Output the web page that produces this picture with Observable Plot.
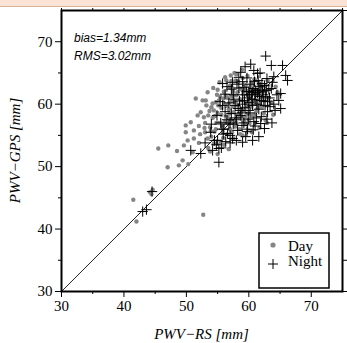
<!DOCTYPE html>
<html><head><meta charset="utf-8">
<script src="https://cdn.jsdelivr.net/npm/d3@7"></script>
<script src="https://cdn.jsdelivr.net/npm/@observablehq/plot@0.6"></script>
<style>
body{margin:0;background:#fff;}
#banner{height:6px;background:#fbe4d5;border-bottom:1px solid #d9b49b;}
#chart svg{display:block;}
</style></head><body>
<div id="banner"></div>
<div id="chart"></div>
<script>
// [PWV-RS, PWV-GPS] in mm
const dayPoints = [
[41.5,44.7],[42.0,41.2],[44.2,45.9],[44.6,46.3],[44.4,45.6],[52.7,42.3],
[45.5,52.9],[47.1,53.4],[47.0,49.9],[48.8,50.2],[49.4,51.0],[49.6,53.4],[50.2,54.2],[51.2,54.5],
[49.9,56.6],[50.7,57.1],[51.8,58.2],[52.3,58.7],[51.5,60.9],[52.6,60.6],[53.4,61.9],[51.2,55.8],
[53.4,54.5],[49.9,55.5],[52.8,57.9],[51.0,52.3],[48.5,52.5],[50.3,50.4],
[53.0,57.0],[53.5,58.2],[53.8,56.3],[54.0,59.5],[54.2,57.8],[54.5,55.6],[54.7,60.3],[55.0,58.6],
[55.2,57.0],[55.4,61.2],[55.6,59.4],[55.8,56.5],[56.0,62.0],[56.1,60.0],[56.3,58.0],[56.5,55.2],
[56.6,61.0],[56.8,59.2],[57.0,63.0],[57.1,57.5],[57.3,60.5],[57.5,62.0],[57.6,58.7],[57.8,56.4],
[58.0,61.4],[58.1,59.8],[58.3,63.6],[58.4,57.9],[58.6,60.8],[58.8,62.4],[59.0,59.0],[59.1,61.6],
[59.3,57.2],[59.5,63.0],[59.6,60.2],[59.8,58.5],[60.0,62.2],[60.2,61.0],[60.4,59.6],[60.5,63.5],
[60.7,60.6],[61.0,62.0],[61.2,58.9],[61.5,61.5],[61.8,60.0],[62.0,62.8],[62.4,58.5],[62.7,57.4],
[62.7,63.0],[63.2,61.0],[64.6,61.9],[57.1,64.6],[57.9,63.8],[57.4,62.5],[54.2,60.1],[54.4,59.0],
[55.2,60.6],[56.3,61.4],[56.8,60.1],[58.0,64.8],[59.0,64.2],[55.0,62.3],[53.2,59.8],
[54.0,54.8],[55.5,54.0],[56.0,53.5],[53.0,55.5],[52.0,56.5],[54.8,57.0],[56.2,57.2],[57.0,56.0],
[58.5,56.0],[59.5,56.8],[60.0,57.5],[61.0,57.0],[60.5,55.5],[59.0,55.0],[57.5,54.5],[55.0,52.0],
[53.5,53.0],[52.0,53.8],
[55.3,63.5],[56.4,63.8],[57.7,65.0],[58.9,65.5],[59.8,64.5],[60.9,64.0],[61.6,63.2],[62.3,62.0],
[63.0,63.8],[63.6,60.2],[62.1,59.6],[61.2,60.3],[60.3,62.9],[59.4,62.3],[58.2,61.9],[57.2,61.3],
[56.4,59.7],[55.6,58.3],[54.6,58.1],[53.7,58.9],[53.1,60.6],[54.9,61.5],[55.9,60.9],[56.9,62.7],
[57.9,60.3],[58.8,60.6],[59.7,59.5],[60.6,58.2],[61.4,59.4],[62.0,61.1],[58.3,58.4],[57.4,59.6],
[56.6,57.9],[55.6,56.9],[54.7,56.0],[53.9,55.7],[52.9,56.2],[55.1,59.8],[56.9,58.5],[58.0,57.0],
[59.4,58.0],[60.3,60.1],[61.0,58.3],[57.2,63.7],[56.2,64.3],[54.3,62.6],[59.0,57.8],[60.1,56.9],
[61.7,56.2],[58.6,55.2],[57.3,55.5],[55.9,54.6],[54.4,53.7],[63.9,58.3],[64.3,62.8],[62.9,57.0],
[52.2,55.2],[53.8,52.4],[56.8,52.8]
];
const nightPoints = [
[43.0,42.8],[43.6,43.1],[44.5,46.0],[62.7,67.7],[65.4,66.2],[65.9,64.6],[66.2,63.8],[58.7,65.1],
[60.8,65.4],[61.4,64.9],[55.8,63.3],[65.1,61.7],[65.1,59.3],[59.0,53.9],[60.6,54.2],[55.2,52.9],
[55.2,50.7],[50.7,52.6],[52.3,52.1],[53.9,55.5],[55.0,54.2],[56.6,55.3],[57.4,54.5],
[56.0,56.0],[56.5,57.5],[57.0,55.0],[57.2,58.5],[57.5,56.8],[57.8,59.8],[58.0,57.5],[58.2,55.8],
[58.5,60.5],[58.7,58.2],[59.0,61.5],[59.2,57.0],[59.4,59.5],[59.6,62.0],[59.8,56.0],[60.0,60.3],
[60.2,58.6],[60.4,61.6],[60.6,59.8],[60.8,62.5],[61.0,60.8],[61.2,57.8],[61.4,61.8],[61.6,59.2],
[61.8,62.8],[62.0,60.6],[62.3,61.5],[62.6,59.8],[62.8,62.2],[63.0,60.5],[63.3,61.0],[63.6,62.5],
[64.0,60.0],[61.5,63.8],[60.2,63.2],[59.0,63.6],[57.5,61.5],[56.8,60.2],[56.2,58.8],[55.5,57.0],
[54.5,54.2],[54.0,56.8],[55.8,59.8],[58.4,62.6],[61.0,56.5],[62.0,58.0],[63.0,58.8],[57.0,53.8],
[59.5,54.8],[58.0,54.2],[60.0,62.0],[61.0,61.5],[61.3,60.0],[62.2,62.0],[61.7,61.2],[60.5,60.7],
[59.8,61.0],[62.5,63.0],[63.8,63.5],[64.5,61.5],[60.0,59.0],[59.0,60.0],[58.6,59.0],[57.8,57.8],
[56.8,56.8],[55.9,55.2],[54.8,53.5],
[57.6,60.8],[58.9,58.6],[59.9,57.6],[60.8,57.2],[61.9,56.9],[62.9,57.6],[63.4,59.6],[62.4,60.4],
[61.1,62.2],[60.1,61.5],[59.2,62.7],[58.1,63.2],[57.2,62.4],[56.2,61.6],[55.4,60.4],[54.9,58.2],
[55.7,56.0],[58.9,56.6],[59.7,55.6],[60.7,55.9],[61.6,54.8],[62.5,56.1],[63.7,57.0],[64.2,59.0],
[64.8,60.6],[63.2,62.4],[62.1,63.3],[60.9,63.6],[59.7,64.2],[58.4,64.3],[57.4,63.5],[56.5,62.8],
[62.9,64.1],[64.0,64.4],[61.8,65.0],[60.3,66.4],[59.4,66.0],[63.6,66.2],[57.0,57.0],[58.3,59.3],
[59.3,60.6],[60.6,61.9],[61.6,62.3],[62.7,61.2],[56.3,54.0],[55.6,53.0],[53.0,53.8],[54.2,52.6]
];
const diagonal = [30, 75];
const majorTicks = [30, 40, 50, 60, 70];
const minorTicks = [35, 45, 55, 65];
const fiveTicks = [30, 35, 40, 45, 50, 55, 60, 65, 70, 75];
const statLines = ["bias=1.34mm", "RMS=3.02mm"];
const xLabel = "PWV\u2212RS [mm]";
const yLabel = "PWV\u2212GPS [mm]";
const legendItems = ["Day", "Night"];

const serif = "'Liberation Serif', 'Times New Roman', serif";
const sans = "'Liberation Sans', Arial, sans-serif";
const blank = () => "";

const plot = Plot.plot({
  width: 347, height: 336,
  marginLeft: 61, marginRight: 5, marginTop: 3, marginBottom: 52,
  x: {domain: [30, 75]},
  y: {domain: [30, 75]},
  style: {fontFamily: serif, fontSize: "15px", color: "black", background: "white"},
  marks: [
    Plot.line(diagonal, {x: d => d, y: d => d, stroke: "#222", strokeWidth: 1}),
    Plot.dot(dayPoints, {x: d => d[0], y: d => d[1], r: 2.2, fill: "#858585", stroke: "none"}),
    Plot.dot(nightPoints, {x: d => d[0], y: d => d[1], symbol: "plus", r: 3.4, stroke: "black", strokeWidth: 1}),
    Plot.axisX({ticks: majorTicks, tickSize: 6, tickPadding: 3, label: null, tickFormat: d => String(d)}),
    Plot.axisX({ticks: minorTicks, tickSize: 3, label: null, tickFormat: blank}),
    Plot.axisX({anchor: "top", ticks: fiveTicks, tickSize: 3, label: null, tickFormat: blank}),
    Plot.axisY({ticks: majorTicks, tickSize: 6, tickPadding: 3, label: null, tickFormat: d => String(d)}),
    Plot.axisY({ticks: minorTicks, tickSize: 3, label: null, tickFormat: blank}),
    Plot.axisY({anchor: "right", ticks: fiveTicks, tickSize: 4, label: null, tickFormat: blank}),
    Plot.frame({stroke: "black", strokeWidth: 2})
  ]
});
document.getElementById("chart").appendChild(plot);

const svg = d3.select(plot);
// stats text
svg.append("g").selectAll("text").data(statLines).join("text")
  .attr("x", 74).attr("y", (d, i) => 35 + i * 18).attr("text-anchor", "start")
  .attr("font-family", sans).attr("font-style", "italic").attr("font-size", 12)
  .attr("fill", "black").text(d => d);
// axis labels
svg.append("text").attr("x", 201.5).attr("y", 332).attr("text-anchor", "middle")
  .attr("font-family", serif).attr("font-style", "italic").attr("font-size", 15).text(xLabel);
svg.append("text").attr("transform", "translate(20,143.5) rotate(-90)").attr("text-anchor", "middle")
  .attr("font-family", serif).attr("font-style", "italic").attr("font-size", 15).text(yLabel);
// legend
const lg = svg.append("g");
lg.append("rect").attr("x", 259).attr("y", 226).attr("width", 70).attr("height", 55)
  .attr("fill", "white").attr("stroke", "black").attr("stroke-width", 1.5);
lg.append("circle").attr("cx", 273).attr("cy", 238).attr("r", 2.6).attr("fill", "#858585");
lg.append("path").attr("d", "M268,257H278M273,252V262").attr("stroke", "black").attr("stroke-width", 1);
lg.selectAll("text.l").data(legendItems).join("text").attr("class", "l")
  .attr("x", 288).attr("y", (d, i) => 244 + i * 15).attr("text-anchor", "start")
  .attr("font-family", serif).attr("font-size", 15).attr("fill", "black").text(d => d);
</script>
</body></html>
